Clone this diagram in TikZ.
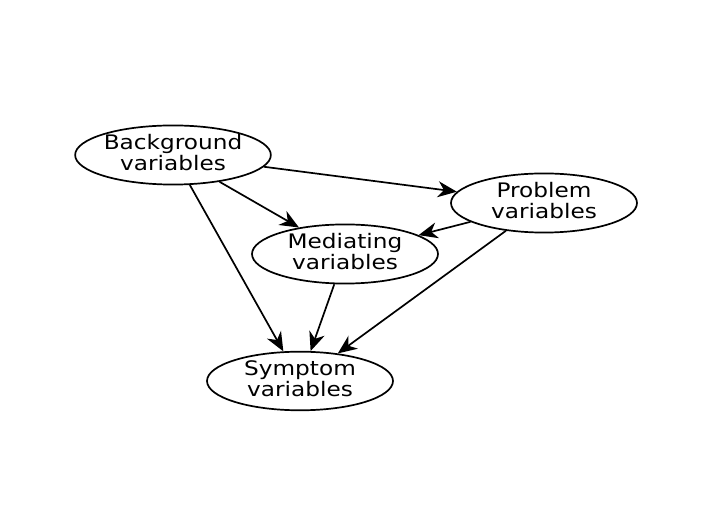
\documentclass[tikz,border=0pt]{standalone}
\usepackage{fontspec}
\setmainfont{DejaVu Sans}
\usetikzlibrary{shapes.geometric,arrows.meta}
\begin{document}
\begin{tikzpicture}[x=1pt,y=-1pt,
  var/.style={ellipse,draw,line width=1.7pt,minimum width=186pt,minimum height=58pt,inner sep=0pt,
    font=\fontsize{20}{19}\selectfont},
  edge/.style={-{Stealth[length=19pt,width=16pt,inset=6pt]},line width=1.7pt}]
\useasboundingbox (0,0) rectangle (721,526);
\newcommand{\vtext}[2]{\scalebox{1.16}[1]{\begin{tabular}{@{}c@{}}#1\\#2\end{tabular}}}
\node[var] (bg) at (173,155) {\vtext{Background}{variables}};
\node[var] (pr) at (544,203) {\vtext{Problem}{variables}};
\node[var] (me) at (345,254) {\vtext{Mediating}{variables}};
\node[var] (sy) at (300,381) {\vtext{Symptom}{variables}};
\draw[edge] (bg) -- (pr);
\draw[edge] (bg) -- (me);
\draw[edge] (bg) -- (sy);
\draw[edge] (pr) -- (me);
\draw[edge] (pr) -- (sy);
\draw[edge] (me) -- (sy);
\end{tikzpicture}
\end{document}
